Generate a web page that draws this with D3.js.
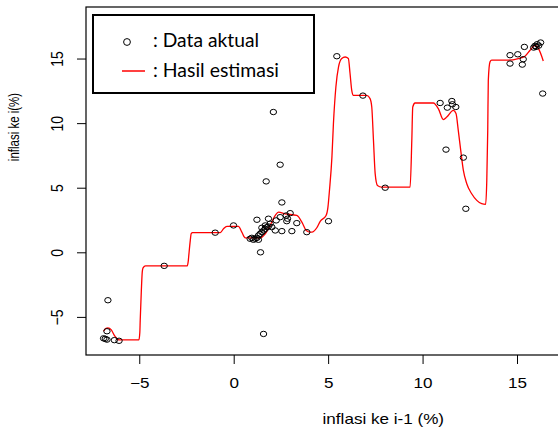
<!DOCTYPE html>
<html>
<head>
<meta charset="utf-8">
<script src="https://cdn.jsdelivr.net/npm/d3@7"></script>
<style>
  body { margin: 0; background: #fff; }
  svg { display: block; }
  .axis line { stroke: #000; }
</style>
</head>
<body>
<div id="chart"></div>
<script>
// data aktual (inflasi ke i-1, inflasi ke i)
const aktualX = [-6.89, -6.71, -6.32, -6.07, -6.71, -6.66, -6.80, -3.68, -0.98, -0.01,
  1.42, 1.58, 1.23, 1.72, 2.46, 2.10, 2.55, 1.84, 3.08, 2.55,
  3.87, 3.34, 2.99, 2.78, 2.46, 2.85, 2.25, 2.20, 2.81,
  1.05, 1.14, 1.23, 0.96, 1.31, 1.40, 1.49, 1.58, 1.67, 1.76, 1.84, 1.67, 2.02, 1.93, 1.49, 0.87, 1.31,
  5.02, 5.46, 6.84, 8.02,
  10.93, 11.55, 11.31, 11.58, 11.76, 11.24, 12.16, 12.29,
  14.63, 15.04, 15.39, 14.63, 15.28, 15.33, 15.95, 16.07, 16.25, 16.01, 16.36, 15.88, 16.15];
const aktualY = [-6.66, -6.76, -6.80, -6.85, -6.11, -3.71, -6.70, -1.05, 1.52, 2.08,
  0.00, -6.32, 2.52, 5.49, 6.78, 10.86, 3.86, 2.60, 1.64, 1.64,
  1.56, 2.26, 3.03, 2.85, 2.72, 2.60, 2.47, 1.69, 2.41,
  0.97, 1.05, 1.12, 1.12, 1.30, 1.43, 1.56, 1.69, 1.82, 1.95, 2.00, 2.08, 1.95, 2.21, 1.90, 1.05, 0.97,
  2.41, 15.18, 12.13, 5.00,
  11.56, 11.71, 11.20, 11.46, 11.25, 7.95, 7.33, 3.37,
  15.26, 15.33, 15.90, 14.61, 14.53, 14.95, 15.98, 16.11, 16.24, 15.90, 12.29, 15.85, 16.00];

// hasil estimasi (kurva)
const estX = [-6.89, -6.78, -6.66, -6.48, -6.31, -6.15, -6.04, -5.02, -4.97, -4.95, -4.89, -4.84, -4.80, -4.67,
  -2.46, -2.40, -2.37, -2.30, -2.25, -2.18, -0.71, -0.54, -0.36, 0.25, 0.43, 0.61, 0.75, 1.40, 1.67, 1.93,
  2.20, 2.37, 2.72, 3.34, 3.61, 3.84, 4.05, 4.14, 4.40, 4.58, 4.89, 4.99, 5.07, 5.20, 5.28, 5.41, 5.55,
  5.72, 5.90, 6.07, 6.16, 6.25, 6.34, 7.05, 7.22, 7.31, 7.40, 7.49, 7.61, 7.84, 9.34, 9.43, 9.48, 9.60,
  10.57, 10.84, 11.10, 11.28, 11.63, 11.77, 11.89, 12.02, 12.16, 12.34, 12.60, 12.87, 13.13, 13.34,
  13.40, 13.45, 13.48, 13.57, 13.66, 14.46, 15.07, 15.42, 15.69, 15.95, 16.13, 16.39];
const estY = [-6.11, -5.90, -5.85, -6.01, -6.45, -6.72, -6.78, -6.78, -6.20, -5.29, -2.96, -1.50, -1.20, -1.05,
  -1.05, -0.60, -0.12, 0.91, 1.45, 1.52, 1.53, 1.82, 2.00, 2.00, 1.56, 1.12, 1.12, 1.12, 1.43, 2.08,
  2.85, 3.11, 2.98, 2.85, 2.33, 1.69, 1.56, 1.56, 1.90, 2.40, 2.85, 3.50, 4.79, 7.37, 9.96, 12.80, 14.35,
  15.00, 15.12, 15.00, 13.84, 12.54, 12.15, 12.15, 11.90, 11.25, 8.67, 6.09, 5.18, 5.05, 5.05, 8.67, 11.25, 11.56,
  11.56, 11.10, 10.27, 10.47, 10.99, 10.74, 9.44, 7.89, 6.34, 5.31, 4.53, 4.02, 3.76, 3.71,
  5.57, 9.44, 13.32, 14.74, 14.87, 14.87, 15.00, 15.18, 15.64, 16.03, 15.78, 14.81];

const tickVals = [-5, 0, 5, 10, 15];
const legendLabels = [": Data aktual", ": Hasil estimasi"];

const width = 558, height = 434;
const margin = { left: 86, top: 7, bottom: 79 };
const stretch = 1.22;
const axisFont = "Liberation Sans, Arial, sans-serif";
const legendFont = "Lato, Open Sans, sans-serif";

const svg = d3.select("#chart")
  .append("svg")
  .attr("width", width)
  .attr("height", height);

const xScale = d3.scaleLinear()
  .domain([-7.82, 17.17])
  .range([margin.left, width]);

const yScale = d3.scaleLinear()
  .domain([-7.95, 18.99])
  .range([height - margin.bottom, margin.top]);

svg.append("clipPath")
  .attr("id", "plot-clip")
  .append("rect")
  .attr("x", margin.left)
  .attr("y", margin.top)
  .attr("width", width - margin.left)
  .attr("height", height - margin.bottom - margin.top);

// estimation curve
const line = d3.line()
  .x((d, i) => xScale(estX[i]))
  .y((d, i) => yScale(estY[i]))
  .curve(d3.curveMonotoneX);

svg.append("path")
  .datum(estX)
  .attr("clip-path", "url(#plot-clip)")
  .attr("d", line)
  .attr("fill", "none")
  .attr("stroke", "#ff0000")
  .attr("stroke-width", 1.3);

// actual data points
svg.append("g")
  .selectAll("ellipse")
  .data(aktualX)
  .join("ellipse")
  .attr("cx", (d, i) => xScale(aktualX[i]))
  .attr("cy", (d, i) => yScale(aktualY[i]))
  .attr("rx", 3.2)
  .attr("ry", 2.7)
  .attr("fill", "none")
  .attr("stroke", "#000")
  .attr("stroke-width", 1);

// axes
const bottomAxis = d3.axisBottom(xScale)
  .tickValues(tickVals)
  .tickSize(9)
  .tickSizeOuter(0);

const xAxisG = svg.append("g")
  .attr("class", "axis")
  .attr("transform", `translate(0,${height - margin.bottom})`)
  .call(bottomAxis);
xAxisG.select(".domain").remove();
xAxisG.selectAll("text")
  .attr("y", 0)
  .attr("dy", 0)
  .attr("font-family", axisFont)
  .attr("font-size", 14)
  .attr("fill", "#000")
  .attr("transform", `translate(0,33.3) scale(${stretch},1)`);

const leftAxis = d3.axisLeft(yScale)
  .tickValues(tickVals)
  .tickSize(9)
  .tickSizeOuter(0);

const yAxisG = svg.append("g")
  .attr("class", "axis")
  .attr("transform", `translate(${margin.left},0)`)
  .call(leftAxis);
yAxisG.select(".domain").remove();
yAxisG.selectAll("text")
  .attr("x", 0)
  .attr("dy", 0)
  .attr("text-anchor", "middle")
  .attr("font-family", axisFont)
  .attr("font-size", 14)
  .attr("fill", "#000")
  .attr("transform", `translate(-22.7,0) scale(${stretch},1) rotate(-90)`);

// plot box
svg.append("rect")
  .attr("x", margin.left)
  .attr("y", margin.top)
  .attr("width", width - margin.left + 20)
  .attr("height", height - margin.bottom - margin.top)
  .attr("fill", "none")
  .attr("stroke", "#000")
  .attr("stroke-width", 1.2);

// axis labels
svg.append("text")
  .attr("font-family", axisFont)
  .attr("text-anchor", "middle")
  .attr("font-size", 14)
  .attr("transform", `translate(383.3,424) scale(${stretch},1)`)
  .text("inflasi ke i-1 (%)");

svg.append("text")
  .attr("font-family", axisFont)
  .attr("text-anchor", "middle")
  .attr("font-size", 11.5)
  .attr("transform", `translate(19,127) scale(${stretch},1) rotate(-90)`)
  .text("inflasi ke i(%)");

// legend
const legend = svg.append("g");
legend.append("rect")
  .attr("x", 93)
  .attr("y", 15)
  .attr("width", 221)
  .attr("height", 78)
  .attr("fill", "#fff")
  .attr("stroke", "#000")
  .attr("stroke-width", 2);
legend.append("circle")
  .attr("cx", 127)
  .attr("cy", 42)
  .attr("r", 3.4)
  .attr("fill", "none")
  .attr("stroke", "#000");
legend.append("line")
  .attr("x1", 122)
  .attr("x2", 145)
  .attr("y1", 71)
  .attr("y2", 71)
  .attr("stroke", "#ff0000")
  .attr("stroke-width", 1.5);
legend.selectAll("text.item")
  .data(legendLabels)
  .join("text")
  .attr("class", "item")
  .attr("x", 153)
  .attr("y", (d, i) => i === 0 ? 47 : 76.5)
  .attr("font-family", legendFont)
  .attr("font-size", 19.5)
  .attr("textLength", (d, i) => i === 0 ? 106 : 126)
  .attr("lengthAdjust", "spacingAndGlyphs")
  .text(d => d);
</script>
</body>
</html>
